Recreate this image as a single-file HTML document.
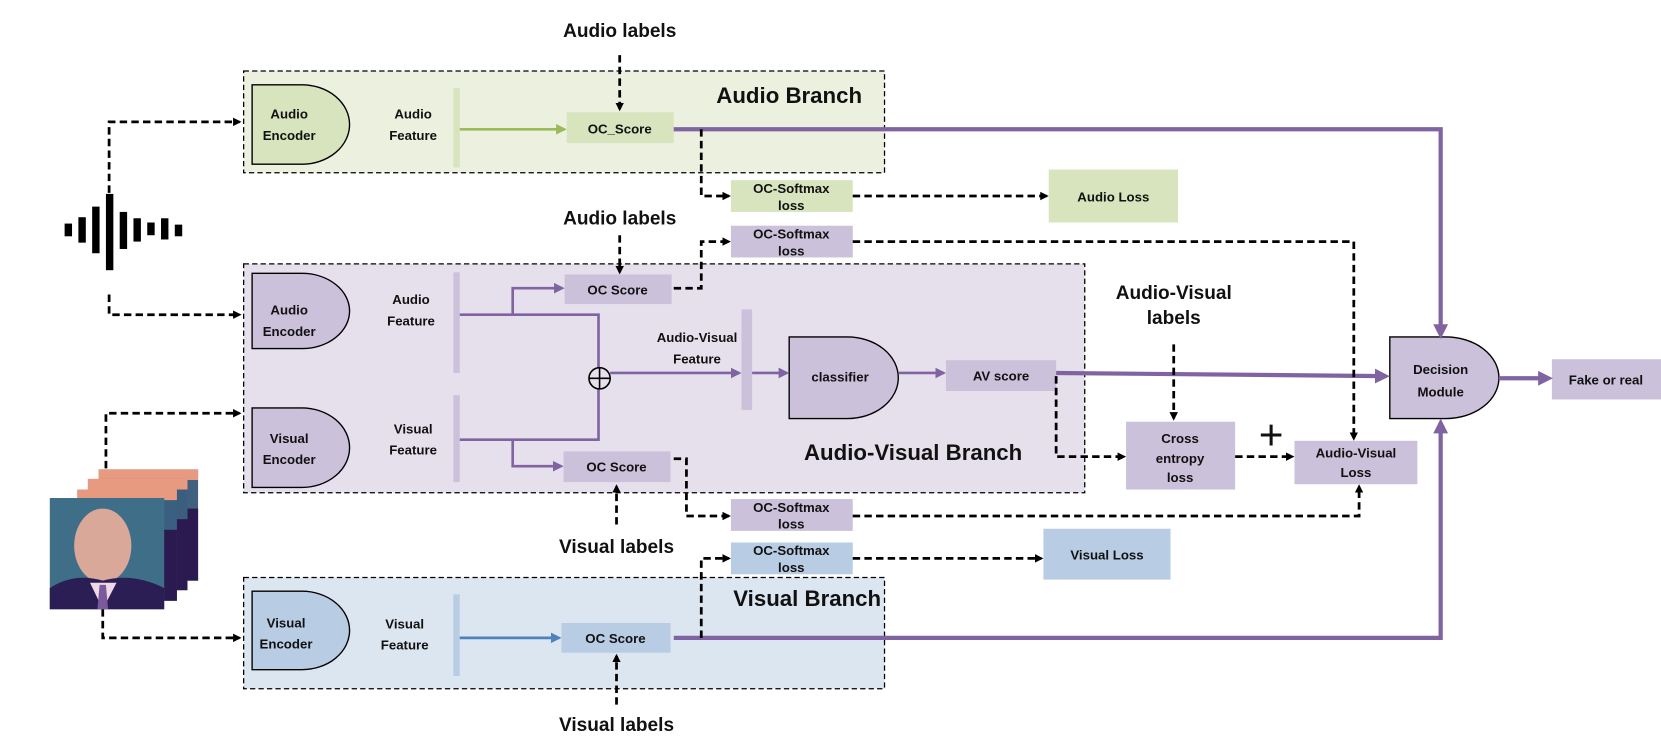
<!DOCTYPE html>
<html><head><meta charset="utf-8"><style>
html,body{margin:0;padding:0;background:#fff;}
svg{display:block;}
text{font-family:"Liberation Sans",sans-serif;font-weight:bold;fill:#111;text-anchor:middle;}
.s{font-size:12.5px;}
.l{font-size:18px;}
.t{font-size:21px;}
.d{stroke:#000;stroke-width:2.6;stroke-dasharray:7,4;fill:none;}
.p{stroke:#8064a2;stroke-width:4;fill:none;}
.pt{stroke:#8064a2;stroke-width:2.5;fill:none;}
.bx{stroke:#000;stroke-width:1.2;stroke-dasharray:5,3;}
</style></head><body>
<svg width="1661" height="747" viewBox="0 0 1568 705" preserveAspectRatio="none" xmlns="http://www.w3.org/2000/svg">
<defs>
<marker id="ab" markerWidth="8" markerHeight="8" refX="6" refY="4" orient="auto" markerUnits="userSpaceOnUse"><path d="M0,0 L8,4 L0,8z" fill="#000"/></marker>
<marker id="ap" markerWidth="14" markerHeight="14" refX="10" refY="7" orient="auto" markerUnits="userSpaceOnUse"><path d="M0,0 L14,7 L0,14z" fill="#8064a2"/></marker>
<marker id="ap2" markerWidth="10" markerHeight="10" refX="8" refY="5" orient="auto" markerUnits="userSpaceOnUse"><path d="M0,0 L10,5 L0,10z" fill="#8064a2"/></marker>
<marker id="ag" markerWidth="10" markerHeight="10" refX="8" refY="5" orient="auto" markerUnits="userSpaceOnUse"><path d="M0,0 L10,5 L0,10z" fill="#9bbb59"/></marker>
<marker id="al" markerWidth="10" markerHeight="10" refX="8" refY="5" orient="auto" markerUnits="userSpaceOnUse"><path d="M0,0 L10,5 L0,10z" fill="#4f81bd"/></marker>
</defs>

<rect x="230" y="67" width="605" height="96" fill="#ebf0df" class="bx"/>
<rect x="230" y="249" width="794" height="216" fill="#e6e0ec" class="bx"/>
<rect x="230" y="545" width="605" height="105" fill="#dce6f1" class="bx"/>
<text x="745" y="97" class="t">Audio Branch</text>
<text x="862" y="434" class="t">Audio-Visual Branch</text>
<text x="762" y="572" class="t">Visual Branch</text>

<path d="M238,80 H285 A45,37.5 0 0 1 285,155 H238z" fill="#d7e4bd" stroke="#000" stroke-width="1.3"/>
<path d="M238,258 H285 A45,35.5 0 0 1 285,329 H238z" fill="#ccc1da" stroke="#000" stroke-width="1.3"/>
<path d="M238,385 H285 A45,37.5 0 0 1 285,460 H238z" fill="#ccc1da" stroke="#000" stroke-width="1.3"/>
<path d="M238,558 H285 A45,37 0 0 1 285,632 H238z" fill="#b8cce4" stroke="#000" stroke-width="1.3"/>
<path d="M745,318 H800 A48,38.5 0 0 1 800,395 H745z" fill="#ccc1da" stroke="#000" stroke-width="1.3"/>
<path d="M1312,318 H1365 A50,38.5 0 0 1 1365,395 H1312z" fill="#ccc1da" stroke="#000" stroke-width="1.3"/>
<text x="273" y="112" class="s">Audio</text><text x="273" y="132" class="s">Encoder</text>
<text x="273" y="297" class="s">Audio</text><text x="273" y="317" class="s">Encoder</text>
<text x="273" y="418" class="s">Visual</text><text x="273" y="438" class="s">Encoder</text>
<text x="270" y="592" class="s">Visual</text><text x="270" y="612" class="s">Encoder</text>
<text x="793" y="360" class="s">classifier</text>
<text x="1360" y="353" class="s">Decision</text><text x="1360" y="374" class="s">Module</text>

<text x="390" y="112" class="s">Audio</text><text x="390" y="132" class="s">Feature</text>
<text x="388" y="287" class="s">Audio</text><text x="388" y="307" class="s">Feature</text>
<text x="390" y="409" class="s">Visual</text><text x="390" y="429" class="s">Feature</text>
<text x="382" y="593" class="s">Visual</text><text x="382" y="613" class="s">Feature</text>
<text x="658" y="323" class="s">Audio-Visual</text><text x="658" y="343" class="s">Feature</text>

<rect x="428" y="83" width="6" height="75" fill="#d7e4bd"/>
<rect x="428" y="257" width="6" height="95" fill="#ccc1da"/>
<rect x="428" y="373" width="6" height="82" fill="#ccc1da"/>
<rect x="428" y="561" width="6" height="77" fill="#b8cce4"/>
<rect x="700" y="292" width="10" height="95" fill="#ccc1da"/>

<rect x="535" y="106" width="101" height="29" fill="#d7e4bd"/><text x="585" y="126" class="s">OC_Score</text>
<rect x="533" y="259" width="101" height="28" fill="#ccc1da"/><text x="583" y="278" class="s">OC Score</text>
<rect x="532" y="426" width="101" height="29" fill="#ccc1da"/><text x="582" y="445" class="s">OC Score</text>
<rect x="530" y="588" width="103" height="28" fill="#b8cce4"/><text x="581" y="607" class="s">OC Score</text>
<rect x="690" y="170" width="115" height="30" fill="#d7e4bd"/><text x="747" y="182" class="s">OC-Softmax</text><text x="747" y="198" class="s">loss</text>
<rect x="690" y="213" width="115" height="30" fill="#ccc1da"/><text x="747" y="225" class="s">OC-Softmax</text><text x="747" y="241" class="s">loss</text>
<rect x="690" y="471" width="115" height="30" fill="#ccc1da"/><text x="747" y="483" class="s">OC-Softmax</text><text x="747" y="499" class="s">loss</text>
<rect x="690" y="512" width="115" height="30" fill="#b8cce4"/><text x="747" y="524" class="s">OC-Softmax</text><text x="747" y="540" class="s">loss</text>
<rect x="990" y="160" width="122" height="50" fill="#d7e4bd"/><text x="1051" y="190" class="s">Audio Loss</text>
<rect x="985" y="499" width="120" height="48" fill="#b8cce4"/><text x="1045" y="528" class="s">Visual Loss</text>
<rect x="893" y="340" width="104" height="29" fill="#ccc1da"/><text x="945" y="359" class="s">AV score</text>
<rect x="1063" y="398" width="103" height="64" fill="#ccc1da"/><text x="1114" y="418" class="s">Cross</text><text x="1114" y="437" class="s">entropy</text><text x="1114" y="455" class="s">loss</text>
<rect x="1222" y="416" width="116" height="41" fill="#ccc1da"/><text x="1280" y="432" class="s">Audio-Visual</text><text x="1280" y="450" class="s">Loss</text>
<rect x="1465" y="339" width="103" height="38" fill="#ccc1da"/><text x="1516" y="363" class="s">Fake or real</text>

<text x="585" y="35" class="l">Audio labels</text>
<text x="585" y="212" class="l">Audio labels</text>
<text x="582" y="522" class="l">Visual labels</text>
<text x="582" y="690" class="l">Visual labels</text>
<text x="1108" y="282" class="l">Audio-Visual</text>
<text x="1108" y="306" class="l">labels</text>
<text x="1200" y="424" style="font-size:40px;font-weight:normal">+</text>

<line x1="434" y1="122" x2="533" y2="122" stroke="#9bbb59" stroke-width="2.5" marker-end="url(#ag)"/>
<line x1="434" y1="602" x2="528" y2="602" stroke="#4f81bd" stroke-width="2.5" marker-end="url(#al)"/>

<polyline points="434,297 565,297 565,347" class="pt"/>
<polyline points="434,415 565,415 565,367" class="pt"/>
<polyline points="484,297 484,272 531,272" class="pt" marker-end="url(#ap2)"/>
<polyline points="484,415 484,440 530,440" class="pt" marker-end="url(#ap2)"/>
<circle cx="566" cy="357" r="10" fill="none" stroke="#000" stroke-width="1.5"/>
<line x1="556" y1="357" x2="576" y2="357" stroke="#000" stroke-width="1.5"/>
<line x1="566" y1="347" x2="566" y2="367" stroke="#000" stroke-width="1.5"/>
<line x1="576" y1="352" x2="698" y2="352" class="pt" marker-end="url(#ap2)"/>
<line x1="710" y1="352" x2="743" y2="352" class="pt" marker-end="url(#ap2)"/>
<line x1="848" y1="352" x2="891" y2="352" class="pt" marker-end="url(#ap2)"/>

<polyline points="636,122 1360,122 1360,316" class="p" marker-end="url(#ap)"/>
<polyline points="636,602 1360,602 1360,399" class="p" marker-end="url(#ap)"/>
<line x1="997" y1="352" x2="1308" y2="355" class="p" marker-end="url(#ap)"/>
<line x1="1415" y1="357" x2="1462" y2="357" class="p" marker-end="url(#ap)"/>

<line x1="585" y1="52" x2="585" y2="103" class="d" marker-end="url(#ab)"/>
<line x1="585" y1="222" x2="585" y2="257" class="d" marker-end="url(#ab)"/>
<line x1="582" y1="495" x2="582" y2="459" class="d" marker-end="url(#ab)"/>
<line x1="582" y1="665" x2="582" y2="619" class="d" marker-end="url(#ab)"/>
<line x1="1108" y1="325" x2="1108" y2="395" class="d" marker-end="url(#ab)"/>
<polyline points="662,122 662,185 688,185" class="d" marker-end="url(#ab)"/>
<line x1="805" y1="185" x2="988" y2="185" class="d" marker-end="url(#ab)"/>
<polyline points="636,272 662,272 662,228 688,228" class="d" marker-end="url(#ab)"/>
<polyline points="805,228 1278,228 1278,414" class="d" marker-end="url(#ab)"/>
<polyline points="636,433 648,433 648,487 688,487" class="d" marker-end="url(#ab)"/>
<polyline points="805,487 1283,487 1283,459" class="d" marker-end="url(#ab)"/>
<polyline points="662,602 662,527 688,527" class="d" marker-end="url(#ab)"/>
<line x1="805" y1="527" x2="983" y2="527" class="d" marker-end="url(#ab)"/>
<polyline points="997,355 997,431 1061,431" class="d" marker-end="url(#ab)"/>
<line x1="1166" y1="431" x2="1220" y2="431" class="d" marker-end="url(#ab)"/>
<polyline points="103,182 103,115 226,115" class="d" marker-end="url(#ab)"/>
<polyline points="103,278 103,297 226,297" class="d" marker-end="url(#ab)"/>
<polyline points="100,442 100,390 226,390" class="d" marker-end="url(#ab)"/>
<polyline points="97,575 97,602 226,602" class="d" marker-end="url(#ab)"/>

<g fill="#000">
<rect x="61" y="211" width="7" height="12"/>
<rect x="74" y="205" width="7" height="24"/>
<rect x="87" y="195" width="7" height="44"/>
<rect x="100" y="183" width="7" height="72"/>
<rect x="113" y="200" width="7" height="35"/>
<rect x="126" y="206" width="7" height="22"/>
<rect x="139" y="210" width="7" height="12"/>
<rect x="152" y="206" width="7" height="20"/>
<rect x="165" y="212" width="7" height="11"/>
</g>

<rect x="93" y="443" width="94" height="105" fill="#40607f"/>
<rect x="93" y="443" width="94" height="10" fill="#e89a80"/>
<rect x="160" y="480" width="27" height="68" fill="#2a1a50"/>
<rect x="83" y="452" width="94" height="105" fill="#3c5e7e"/>
<rect x="83" y="452" width="94" height="10" fill="#e89a80"/>
<rect x="150" y="490" width="27" height="67" fill="#2a1a50"/>
<rect x="73" y="462" width="94" height="105" fill="#3a5f80"/>
<rect x="73" y="462" width="94" height="10" fill="#e89a80"/>
<rect x="140" y="500" width="27" height="67" fill="#2a1a50"/>
<rect x="47" y="470" width="108" height="105" fill="#3e6e88"/>
<ellipse cx="97" cy="515" rx="27" ry="35" fill="#d9a898"/>
<path d="M47,555 Q70,540 97,548 Q125,540 155,555 V575 H47z" fill="#2b1e55"/>
<path d="M85,550 L97,575 L110,550z" fill="#f0d8e6"/>
<path d="M94,552 L100,552 L102,575 L92,575z" fill="#7a5a9a"/>
</svg>
</body></html>
